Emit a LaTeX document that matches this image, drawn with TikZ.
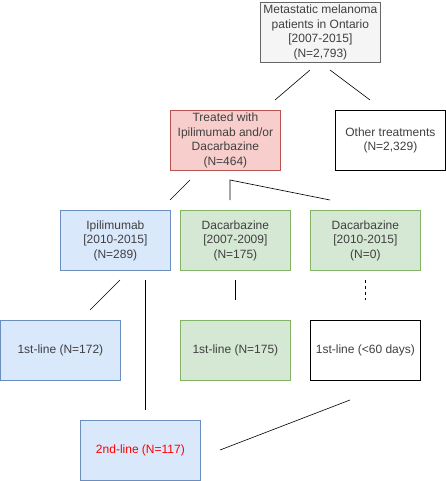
\documentclass[tikz,border=0pt]{standalone}
\usepackage{fontspec}
\setmainfont{Liberation Sans}
\begin{document}
\begin{tikzpicture}[x=1pt,y=-1pt,
  box/.style={draw, line width=0.8pt, minimum width=#1, minimum height=60pt, align=center, inner sep=0pt, font=\fontsize{12}{14.5}\selectfont, text=black!75, anchor=north west},
  box/.default=110pt,
  grey/.style={fill=black!4, draw=black!60},
  red/.style={fill={rgb,255:red,248;green,206;blue,204}, draw={rgb,255:red,184;green,84;blue,80}},
  blue/.style={fill={rgb,255:red,218;green,232;blue,252}, draw={rgb,255:red,108;green,142;blue,191}},
  green/.style={fill={rgb,255:red,213;green,232;blue,212}, draw={rgb,255:red,130;green,179;blue,102}},
  plain/.style={fill=white, draw=black},
  link/.style={line width=0.6pt}]
\useasboundingbox (0,0) rectangle (446,481);
% boxes
\node[box=120pt, grey] (top) at (260,2) {Metastatic melanoma\\patients in Ontario\\{[}2007-2015{]}\\(N=2,793)};
\node[box, red] (treat) at (170,110) {Treated with\\Ipilimumab and/or\\Dacarbazine\\(N=464)};
\node[box, plain] (other) at (335,110) {Other treatments\\(N=2,329)};
\node[box, blue] (ipi) at (60,210) {Ipilimumab\\{[}2010-2015{]}\\(N=289)};
\node[box, green] (dacA) at (180,210) {Dacarbazine\\{[}2007-2009{]}\\(N=175)};
\node[box, green] (dacB) at (310,210) {Dacarbazine\\{[}2010-2015{]}\\(N=0)};
\node[box=120pt, blue] (ipiA) at (0,320) {1st-line (N=172)};
\node[box, green] (dacA1) at (180,320) {1st-line (N=175)};
\node[box, plain] (dacB1) at (310,320) {1st-line (<60 days)};
\node[box=120pt, blue, text=red] (ipiB) at (80,420) {2nd-line (N=117)};
% connectors (free-standing line segments between the boxes)
\coordinate (c1) at (310,70); \coordinate (c2) at (275,100);
\coordinate (c3) at (330,70); \coordinate (c4) at (370,100);
\draw[link] (c1) -- (c2);
\draw[link] (c3) -- (c4);
\coordinate (d1) at (190,180); \coordinate (d2) at (170,200);
\draw[link] (d1) -- (d2);
\coordinate (e1) at (230,200); \coordinate (e2) at (230,180); \coordinate (e3) at (330,200);
\draw[link] (e1) -- (e2) -- (e3);
\coordinate (f1) at (120,280); \coordinate (f2) at (90,310);
\draw[link] (f1) -- (f2);
\coordinate (g1) at (145,280); \coordinate (g2) at (145,410);
\draw[link] (g1) -- (g2);
\coordinate (h1) at (235,280); \coordinate (h2) at (235,300);
\draw[link] (h1) -- (h2);
\coordinate (k1) at (365,280); \coordinate (k2) at (365,300);
\draw[link, dash pattern=on 3pt off 3pt] (k1) -- (k2);
\coordinate (m1) at (350,400); \coordinate (m2) at (220,450);
\draw[link] (m1) -- (m2);
\end{tikzpicture}
\end{document}
